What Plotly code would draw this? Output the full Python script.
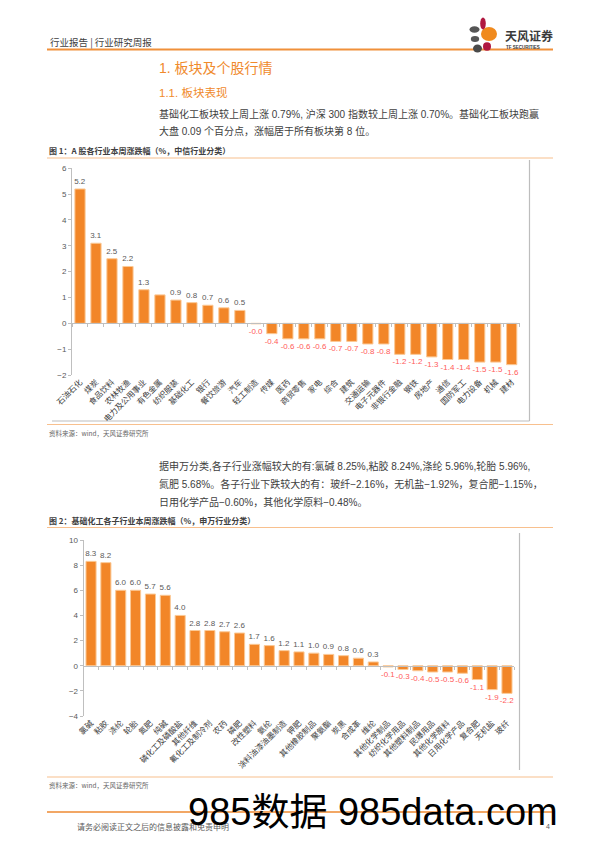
import plotly.graph_objects as go

W, H = 596, 842

# ---------------- data ----------------
cats1 = ["石油石化", "煤炭", "食品饮料", "农林牧渔", "电力及公用事业", "有色金属", "纺织服装",
         "基础化工", "银行", "餐饮旅游", "汽车", "轻工制造", "传媒", "医药", "商贸零售", "家电",
         "综合", "建筑", "交通运输", "电子元器件", "非银行金融", "钢铁", "房地产", "通信",
         "国防军工", "电力设备", "机械", "建材"]
vals1 = [5.2, 3.1, 2.5, 2.2, 1.3, 1.1, 0.9, 0.8, 0.7, 0.6, 0.5, -0.02, -0.4, -0.6, -0.6, -0.6,
         -0.7, -0.7, -0.8, -0.8, -1.2, -1.2, -1.3, -1.4, -1.4, -1.5, -1.5, -1.6]
hidden_labels1 = ["有色金属"]

cats2 = ["氯碱", "粘胶", "涤纶", "轮胎", "氮肥", "纯碱", "磷化工及磷酸盐", "其他纤维",
         "氟化工及制冷剂", "农药", "磷肥", "改性塑料", "氨纶", "涂料油漆油墨制造", "钾肥",
         "其他橡胶制品", "聚氨酯", "炭黑", "合成革", "维纶", "其他化学制品", "纺织化学用品",
         "其他塑料制品", "民爆用品", "其他化学原料", "日用化学产品", "复合肥", "无机盐", "玻纤"]
vals2 = [8.3, 8.2, 6.0, 6.0, 5.7, 5.6, 4.0, 2.8, 2.8, 2.7, 2.6, 1.7, 1.6, 1.2, 1.1, 1.0, 0.9,
         0.8, 0.6, 0.3, -0.1, -0.3, -0.4, -0.5, -0.5, -0.6, -1.1, -1.9, -2.2]

yticks1 = [-2, -1, 0, 1, 2, 3, 4, 5, 6]
yticks2 = [-4, -2, 0, 2, 4, 6, 8, 10]

# ---------------- style ----------------
FONT = "Liberation Sans, Noto Sans CJK SC, sans-serif"
CJK = "Noto Sans CJK SC, Liberation Sans, sans-serif"
BAR = "#F28628"
BAR_EDGE = "#FBC996"
POS_TXT = "#595959"
NEG_TXT = "#FF5A5A"
AXIS = "#BFBFBF"
ORANGE = "#F08A2C"


def px(x):
    return x / W


def py(y):
    return 1 - y / H


def labels(vals, cats, hidden=()):
    return ["" if c in hidden else f"{v:.1f}" for c, v in zip(cats, vals)]


def colors(vals):
    return [POS_TXT if v >= 0 else NEG_TXT for v in vals]


fig = go.Figure()

fig.add_trace(go.Bar(
    x=cats1, y=vals1, xaxis="x", yaxis="y", width=0.64,
    marker=dict(color=BAR, line=dict(color=BAR_EDGE, width=1)),
    text=labels(vals1, cats1, hidden_labels1), textposition="outside",
    textfont=dict(size=8, color=colors(vals1), family=FONT),
    constraintext="none", cliponaxis=False, hoverinfo="skip"))

fig.add_trace(go.Bar(
    x=cats2, y=vals2, xaxis="x2", yaxis="y2", width=0.68,
    marker=dict(color=BAR, line=dict(color=BAR_EDGE, width=1)),
    text=labels(vals2, cats2), textposition="outside",
    textfont=dict(size=8, color=colors(vals2), family=FONT),
    constraintext="none", cliponaxis=False, hoverinfo="skip"))

# dummy traces for the zero-line overlay axes
fig.add_trace(go.Scatter(x=[None], y=[None], xaxis="x3", yaxis="y", hoverinfo="skip"))
fig.add_trace(go.Scatter(x=[None], y=[None], xaxis="x4", yaxis="y2", hoverinfo="skip"))

# chart geometry (pixels)
c1_left, c1_right, c1_top, c1_bot = 72, 519.7, 168.3, 375
c2_left, c2_right, c2_top, c2_bot = 83.6, 514.4, 540, 716

dom1x = [px(c1_left), px(c1_right)]
dom1y = [py(c1_bot), py(c1_top)]
dom2x = [px(c2_left), px(c2_right)]
dom2y = [py(c2_bot), py(c2_top)]

zero1 = dom1y[0] + (0 - yticks1[0]) / (yticks1[-1] - yticks1[0]) * (dom1y[1] - dom1y[0])
zero2 = dom2y[0] + (0 - yticks2[0]) / (yticks2[-1] - yticks2[0]) * (dom2y[1] - dom2y[0])

xcommon = dict(showgrid=False, zeroline=False, showline=False, ticks="", automargin=False,
               tickangle=-45, tickfont=dict(size=8, color="#404040", family=CJK),
               type="category")
ycommon = dict(showgrid=False, zeroline=False, showline=True, linecolor=AXIS, linewidth=1,
               ticks="outside", ticklen=3, tickcolor=AXIS, automargin=False,
               tickfont=dict(size=8, color="#595959", family=FONT))
zcommon = dict(type="linear", tick0=0.5, dtick=1, showline=True, linecolor=AXIS,
               ticks="outside", ticklen=3, tickcolor=AXIS, showticklabels=False,
               showgrid=False, zeroline=False, automargin=False)

fig.update_layout(
    width=W, height=H, margin=dict(l=0, r=0, t=0, b=0, pad=0, autoexpand=False),
    paper_bgcolor="white", plot_bgcolor="white", showlegend=False,
    xaxis=dict(domain=dom1x, anchor="y", range=[-0.5, len(cats1) - 0.5], **xcommon),
    yaxis=dict(domain=dom1y, anchor="x", range=[yticks1[0], yticks1[-1]],
               tickvals=yticks1, **ycommon),
    xaxis2=dict(domain=dom2x, anchor="y2", range=[-0.5, len(cats2) - 0.5], **xcommon),
    yaxis2=dict(domain=dom2y, anchor="x2", range=[yticks2[0], yticks2[-1]],
                tickvals=yticks2, **ycommon),
    xaxis3=dict(domain=dom1x, overlaying="x", anchor="free", position=zero1,
                range=[-0.5, len(cats1) - 0.5], **zcommon),
    xaxis4=dict(domain=dom2x, overlaying="x2", anchor="free", position=zero2,
                range=[-0.5, len(cats2) - 0.5], **zcommon),
)

# ---------------- page text ----------------
def txt(s, x, y, size, color="#333333", family=FONT, xanchor="left"):
    return dict(text=s, x=px(x), y=py(y), xref="paper", yref="paper", xanchor=xanchor,
                yanchor="middle", showarrow=False, font=dict(size=size, color=color, family=family))


para1 = ["基础化工板块较上周上涨 0.79%, 沪深 300 指数较上周上涨 0.70%。基础化工板块跑赢",
         "大盘 0.09 个百分点，涨幅居于所有板块第 8 位。"]
para2 = ["据申万分类,各子行业涨幅较大的有:氯碱 8.25%,粘胶 8.24%,涤纶 5.96%,轮胎 5.96%,",
         "氮肥 5.68%。各子行业下跌较大的有：玻纤−2.16%，无机盐−1.92%，复合肥−1.15%，",
         "日用化学产品−0.60%，其他化学原料−0.48%。"]

ann = [
    txt("行业报告 | 行业研究周报", 48, 42, 9.5, "#404040", CJK),
    txt("<b>天风证券</b>", 503, 35, 12, "#3a3a3a", CJK),
    txt("<b>TF SECURITIES</b>", 504, 48, 4.5, "#3a3a3a"),
    txt("1. 板块及个股行情", 157, 68, 14, ORANGE),
    txt("1.1. 板块表现", 157, 92, 11.5, ORANGE),
    txt(para1[0], 157, 114, 10, "#404040"),
    txt(para1[1], 157, 131, 10, "#404040"),
    txt("<b>图 1：A 股各行业本周涨跌幅（%，中信行业分类）</b>", 47, 150, 8, "#404040", CJK),
    txt("资料来源：wind，天风证券研究所", 47, 433, 6.5, "#666666", CJK),
    txt(para2[0], 157, 466, 10, "#404040"),
    txt(para2[1], 157, 484, 10, "#404040"),
    txt(para2[2], 157, 502, 10, "#404040"),
    txt("<b>图 2：基础化工各子行业本周涨跌幅（%，申万行业分类）</b>", 47, 520, 8, "#404040", CJK),
    txt("资料来源：wind，天风证券研究所", 47, 785, 6.5, "#666666", CJK),
    txt("请务必阅读正文之后的信息披露和免责申明", 75, 826, 8, "#595959", CJK),
    txt("4", 552, 826, 7, "#595959", FONT, "right"),
    txt("985数据 985data.com", 186, 812, 38, "#000000", FONT),
]
fig.update_layout(annotations=ann)

# ---------------- decorative lines & logo ----------------
def hline(y, x0, x1, color, width):
    return dict(type="line", xref="paper", yref="paper", x0=px(x0), x1=px(x1), y0=py(y), y1=py(y),
                line=dict(color=color, width=width), layer="below")


def vline(x, y0, y1, color, width):
    return dict(type="line", xref="paper", yref="paper", x0=px(x), x1=px(x), y0=py(y0), y1=py(y1),
                line=dict(color=color, width=width), layer="below")


def ell(cx, cy, rx, ry, color):
    return dict(type="circle", xref="paper", yref="paper", x0=px(cx - rx), x1=px(cx + rx),
                y0=py(cy + ry), y1=py(cy - ry), fillcolor=color, line=dict(width=0))


shapes = [
    hline(49.5, 47, 553, "#F0903A", 2),
    hline(158, 47, 553, "#F8C08E", 1.2),
    vline(529.5, 160, 421, "#BDBDBD", 1.2),
    hline(421, 52, 529.5, "#BDBDBD", 1.2),
    hline(424.5, 47, 553, "#F8C08E", 1.2),
    hline(527.5, 47, 553, "#F8C08E", 1.2),
    vline(519.5, 533, 770, "#BDBDBD", 1.2),
    hline(777, 47, 553, "#F8C08E", 1.2),
    hline(812, 47, 553, "#EE8A32", 1.5),
    # logo petals
    ell(489, 34, 8, 7, "#F08A1E"),
    ell(483, 23.5, 2.8, 6, "#B01840"),
    ell(474.5, 29.5, 5, 3.2, "#555555"),
    ell(475, 39, 4.2, 3, "#555555"),
    ell(487, 46.5, 4, 4.2, "#B01840"),
    ell(477.5, 48.5, 4.5, 4, "#4A4A4A"),
]
fig.update_layout(shapes=shapes)

fig.write_html("out.html", config={"displayModeBar": False},
               post_script="document.body.style.margin='0px';")
